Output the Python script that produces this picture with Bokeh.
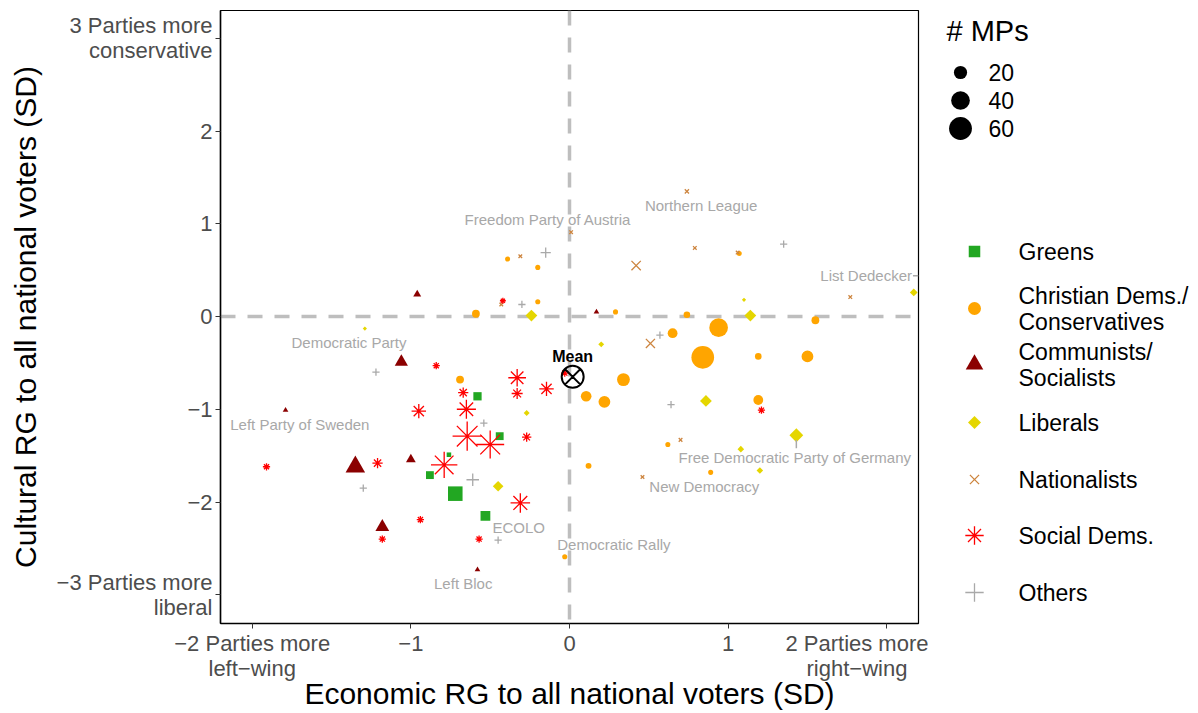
import numpy as np
from bokeh.plotting import figure
from bokeh.models import Range1d, FixedTicker, Span
from bokeh.layouts import row
from bokeh.embed import file_html
from bokeh.resources import INLINE
from bokeh.core.properties import value

FONT = "Liberation Sans"

# ---------------- data ----------------
greens_x = [-0.58, -0.44, -0.76, -0.88, -0.72, -0.53]
greens_y = [-0.86, -1.29, -1.49, -1.71, -1.91, -2.15]
greens_mps = [10, 9, 3, 9, 31, 14]

cd_x = [-0.39, -0.20, -0.20, -0.59, 0.29, 0.74, 1.55, 0.94, 0.84, 0.65, 1.19,
        1.50, 0.34, 0.105, 0.22, 1.19, -0.69, 0.62, 0.12, 0.89, -0.03, 1.07]
cd_y = [0.62, 0.53, 0.16, 0.03, 0.05, 0.02, -0.04, -0.12, -0.44, -0.18, -0.43,
        -0.43, -0.68, -0.86, -0.92, -0.90, -0.68, -1.38, -1.61, -1.68, -2.59, 0.68]
cd_mps = [3, 3, 3, 7, 3, 5, 7, 40, 59, 11, 5, 16, 19, 13, 16, 11, 7, 3, 4, 3, 3, 3]

comm_x = [-0.96, -1.06, -1.79, -1.35, -1.00, -1.18, -0.58, 0.17]
comm_y = [0.24, -0.49, -1.01, -1.62, -1.54, -2.27, -2.73, 0.05]
comm_mps = [4, 11, 2, 24, 6, 12, 2, 2]

lib_x = [-0.24, -1.29, 0.20, -0.27, -0.45, 0.86, 1.43, 1.08, 1.20, 1.14, 1.10, 2.17]
lib_y = [0.01, -0.13, -0.30, -1.04, -1.83, -0.91, -1.28, -1.43, -1.66, 0.01, 0.18, 0.26]
lib_mps = [16, 2, 4, 4, 13, 16, 22, 5, 5, 16, 2, 7]

nat_x = [0.01, -0.31, -0.43, 0.74, 0.79, 1.06, 0.42, 1.77, 0.51, 0.70, 0.46]
nat_y = [0.91, 0.65, 0.13, 1.35, 0.74, 0.69, 0.55, 0.21, -0.29, -1.33, -1.73]
nat_mps = [3, 3, 3, 4, 3, 3, 20, 3, 19, 3, 3]

sd_x = [-0.42, -0.84, -0.67, -0.33, -0.33, -0.145, -0.03, -0.95, -0.65, -0.645,
        -0.50, -0.27, -0.79, -1.91, -1.21, -0.31, -1.18, -0.94, -0.57, 1.21]
sd_y = [0.17, -0.53, -0.82, -0.66, -0.83, -0.78, -0.61, -1.02, -1.00, -1.29,
        -1.38, -1.30, -1.60, -1.62, -1.58, -2.01, -2.40, -2.19, -2.40, -1.01]
sd_mps = [2, 3, 6, 18, 7, 12, 3, 12, 21, 49, 45, 5, 40, 3, 6, 22, 3, 3, 3, 3]

oth_x = [-0.15, -0.30, -1.22, -0.54, -1.30, -0.61, -0.45, 1.35, 0.57, 0.64]
oth_y = [0.69, 0.13, -0.60, -1.15, -1.85, -1.76, -2.41, 0.78, -0.20, -0.95]
oth_mps = [6, 3, 3, 3, 3, 9, 3, 3, 3, 3]

mean_x = [0.02]
mean_y = [-0.65]

label_text = ["Freedom Party of Austria", "Northern League", "List Dedecker",
              "Democratic Party", "Left Party of Sweden",
              "Free Democratic Party of Germany", "New Democracy", "ECOLO",
              "Democratic Rally", "Left Bloc"]
label_x = [-0.136, 0.83, 1.87, -1.39, -1.70, 1.42, 0.85, -0.32, 0.28, -0.67]
label_y = [1.046, 1.20, 0.44, -0.28, -1.16, -1.52, -1.83, -2.27, -2.46, -2.88]
# leader segments (label -> point)
seg_x0 = [1.43, 2.165]
seg_y0 = [-1.33, 0.44]
seg_x1 = [1.43, 2.20]
seg_y1 = [-1.42, 0.44]

x_ticks = [-2, -1, 0, 1, 2]
x_tick_labels = ["\u22122 Parties more\nleft\u2212wing", "\u22121", "0", "1",
                 "2 Parties more\nright\u2212wing"]
y_ticks = [-3, -2, -1, 0, 1, 2, 3]
y_tick_labels = ["\u22123 Parties more\nliberal", "\u22122", "\u22121", "0", "1", "2",
                 "3 Parties more\nconservative"]

group_names = ["Greens", "Christian Dems./\nConservatives", "Communists/\nSocialists",
               "Liberals", "Nationalists", "Social Dems.", "Others"]
size_legend_mps = [20, 40, 60]

# ---------------- styles ----------------
# marker, colour, size factor (relative to circle diameter), angle, filled
styles = [
    ("square", "#22A722", 0.886, 0.0, True),
    ("circle", "#FFA500", 1.0, 0.0, True),
    ("triangle", "#8B0000", 1.35, 0.0, True),
    ("square", "#E5D600", 0.707, np.pi / 4, True),
    ("x", "#CD853F", 1.0, 0.0, False),
    ("asterisk", "#FF0000", 1.414, 0.0, False),
    ("cross", "#A9A9A9", 1.414, 0.0, False),
]
groups = [
    (greens_x, greens_y, greens_mps),
    (cd_x, cd_y, cd_mps),
    (comm_x, comm_y, comm_mps),
    (lib_x, lib_y, lib_mps),
    (nat_x, nat_y, nat_mps),
    (sd_x, sd_y, sd_mps),
    (oth_x, oth_y, oth_mps),
]


def diam(mps):
    return 2.95 * np.sqrt(np.asarray(mps, dtype=float))


FRAME_TOP, FRAME_H = 10, 613

# ---------------- main figure ----------------
p = figure(frame_width=698, frame_height=FRAME_H,
           x_range=Range1d(-2.2, 2.2), y_range=Range1d(-3.31, 3.30),
           output_backend="svg", toolbar_location=None,
           min_border_left=220, min_border_right=10, min_border_top=FRAME_TOP,
           min_border_bottom=60)
p.grid.visible = False
p.background_fill_color = "white"
p.outline_line_color = "black"
p.outline_line_width = 1.2

for ax, ticks, labels, title in [
    (p.xaxis, x_ticks, x_tick_labels, "Economic RG to all national voters (SD)"),
    (p.yaxis, y_ticks, y_tick_labels, "Cultural RG to all national voters (SD)"),
]:
    ax.ticker = FixedTicker(ticks=ticks)
    ax.major_label_overrides = {t: l for t, l in zip(ticks, labels)}
    ax.axis_label = title
    ax.axis_label_text_font = FONT
    ax.axis_label_text_font_size = "30px"
    ax.axis_label_text_font_style = "normal"
    ax.axis_label_text_color = "black"
    ax.major_label_text_font = FONT
    ax.major_label_text_font_size = "22px"
    ax.major_label_text_color = "#4D4D4D"
    ax.major_label_text_line_height = 1.0
    ax.major_tick_out = 5
    ax.major_tick_in = 0
    ax.minor_tick_out = 0
    ax.minor_tick_in = 0
    ax.major_tick_line_color = "#333333"
    ax.axis_line_color = "black"
    ax.axis_line_width = 1.5

p.xaxis.major_label_standoff = 2
p.xaxis.axis_label_standoff = -7
p.yaxis.major_label_standoff = 3
p.yaxis.axis_label_standoff = 12
p.yaxis.major_label_orientation = "horizontal"

for dim in ("height", "width"):
    p.add_layout(Span(location=0, dimension=dim, line_color="#BEBEBE", line_width=3.5,
                      line_dash="15 12", level="underlay"))

for (gx, gy, gm), (marker, color, fac, ang, filled) in zip(groups, styles):
    sizes = diam(gm) * fac
    if filled:
        p.scatter(x=gx, y=gy, size=sizes, marker=marker, angle=ang,
                  fill_color=color, line_color=None)
    else:
        p.scatter(x=gx, y=gy, size=sizes, marker=marker, angle=ang,
                  fill_color=None, line_color=color, line_width=1.3)

p.segment(x0=seg_x0, y0=seg_y0, x1=seg_x1, y1=seg_y1, line_color="#AAAAAA", line_width=1.5)
p.text(x=label_x, y=label_y, text=label_text, text_align="center", text_baseline="middle",
       text_font=value(FONT), text_font_size="15px", text_color="#A8A8A8")

p.scatter(x=mean_x, y=mean_y, marker="circle_x", size=22, fill_color=None,
          line_color="black", line_width=2)
p.text(x=mean_x, y=mean_y, text=["Mean"], text_align="center", text_baseline="middle",
       y_offset=-20, text_font=value(FONT), text_font_size="16px", text_font_style="bold",
       text_color="black")

# ---------------- legend panel (y in page pixels, frame aligned with main frame) ----
LW = 264
q = figure(frame_width=LW, frame_height=FRAME_H,
           x_range=Range1d(0, LW), y_range=Range1d(FRAME_TOP + FRAME_H, FRAME_TOP),
           output_backend="svg", toolbar_location=None,
           min_border_left=0, min_border_right=0, min_border_top=FRAME_TOP,
           min_border_bottom=0, x_axis_location=None, y_axis_location=None)
q.grid.visible = False
q.outline_line_color = None

# size legend
q.text(x=[18], y=[30], text=["# MPs"], text_align="left", text_baseline="middle",
       text_font=value(FONT), text_font_size="29px", text_color="black")
size_key_y = [72 + 28 * i for i in range(len(size_legend_mps))]
q.scatter(x=[32] * len(size_legend_mps), y=size_key_y, size=diam(size_legend_mps),
          marker="circle", fill_color="black", line_color=None)
q.text(x=[60] * len(size_legend_mps), y=size_key_y, text=[str(v) for v in size_legend_mps],
       text_align="left", text_baseline="middle", text_font=value(FONT),
       text_font_size="23px", text_color="black")

# category legend
cat_key_y = [251, 308, 364, 422, 479, 535, 592]
key_d = 13.0
for (marker, color, fac, ang, filled), ky in zip(styles, cat_key_y):
    if filled:
        q.scatter(x=[46], y=[ky], size=key_d * fac, marker=marker, angle=ang,
                  fill_color=color, line_color=None)
    else:
        q.scatter(x=[46], y=[ky], size=key_d * fac, marker=marker, angle=ang,
                  fill_color=None, line_color=color, line_width=1.3)
q.text(x=[90] * len(group_names), y=cat_key_y, text=group_names, text_align="left",
       text_baseline="middle", text_font=value(FONT), text_font_size="23px",
       text_color="black", text_line_height=1.0)

layout = row(p, q, spacing=0)
open("out.html", "w").write(file_html(layout, INLINE))
